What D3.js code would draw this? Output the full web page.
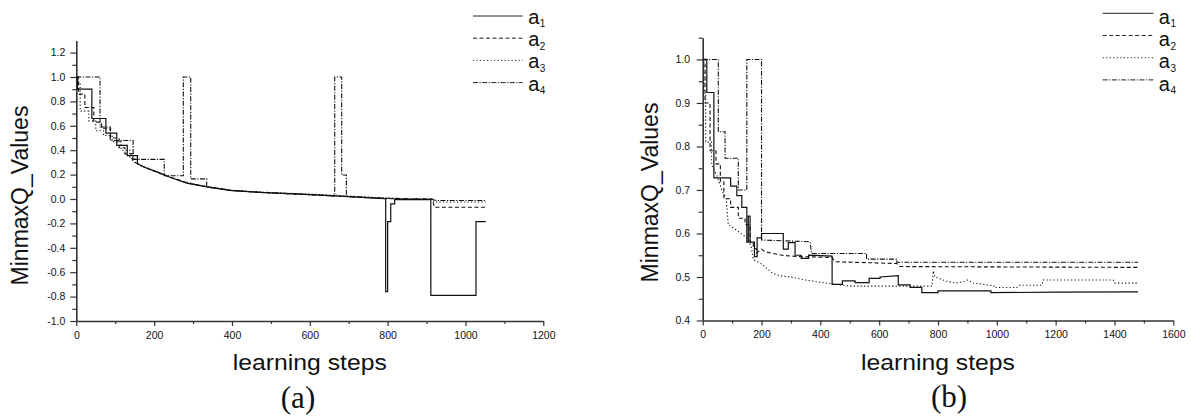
<!DOCTYPE html>
<html><head><meta charset="utf-8">
<script src="https://cdn.jsdelivr.net/npm/d3@7"></script>
<style>body{margin:0;background:#fff}svg{display:block}</style>
</head><body><svg id="c" width="1191" height="416"></svg>
<script>
// ---------- data ----------
const seriesNames = ["a1","a2","a3","a4"];
const leftXTicks = [0,200,400,600,800,1000,1200];
const leftXMinor = [100,300,500,700,900,1100];
const leftYTicks = [-1.0,-0.8,-0.6,-0.4,-0.2,0.0,0.2,0.4,0.6,0.8,1.0,1.2];
const leftYMinor = [-0.9,-0.7,-0.5,-0.3,-0.1,0.1,0.3,0.5,0.7,0.9,1.1];
const rightXTicks = [0,200,400,600,800,1000,1200,1400,1600];
const rightXMinor = [100,300,500,700,900,1100,1300,1500];
const rightYTicks = [0.4,0.5,0.6,0.7,0.8,0.9,1.0];
const rightYMinor = [0.45,0.55,0.65,0.75,0.85,0.95,1.05];

const leftA1 = [[0,1.0],[3,1.0],[3,0.9],[40,0.9],[40,0.66],[76,0.66],[76,0.54],[104,0.54],[104,0.44],[131,0.44],[131,0.355],[157,0.355],[157,0.29],[175,0.26],[206,0.224],[241,0.178],[284,0.13],[335,0.10],[395,0.07],[470,0.055],[575,0.04],[700,0.02],[780,0.005],[795,0.003],[795,-0.76],[800,-0.76],[800,-0.186],[808,-0.186],[808,-0.04],[818,-0.04],[818,-0.005],[911,-0.005],[911,-0.79],[1027,-0.79],[1027,-0.186],[1052,-0.186]];
const leftA2 = [[0,1.0],[6,1.0],[6,0.86],[22,0.86],[22,0.75],[45,0.75],[45,0.63],[65,0.63],[65,0.58],[88,0.58],[88,0.5],[110,0.5],[110,0.42],[125,0.42],[125,0.37],[145,0.37],[145,0.31],[165,0.275],[190,0.24],[215,0.21],[245,0.175],[290,0.128],[340,0.098],[400,0.07],[480,0.053],[580,0.038],[700,0.02],[790,0.004],[850,0.0],[915,0.0],[920,-0.068],[1052,-0.068]];
const leftA3 = [[0,1.0],[4,1.0],[4,0.95],[10,0.95],[10,0.72],[32,0.72],[32,0.64],[50,0.64],[50,0.56],[70,0.56],[70,0.52],[92,0.52],[92,0.47],[115,0.47],[115,0.4],[138,0.4],[138,0.33],[150,0.33],[150,0.3],[170,0.27],[200,0.232],[230,0.19],[270,0.145],[330,0.105],[400,0.072],[470,0.057],[560,0.045],[640,0.035],[700,0.025],[780,0.01],[820,0.005],[860,0.0],[915,0.0],[920,-0.025],[1052,-0.025]];
const leftA4 = [[0,1.0],[61,1.0],[61,0.59],[87,0.59],[87,0.48],[146,0.48],[146,0.325],[226,0.325],[226,0.19],[275,0.19],[275,1.0],[294,1.0],[294,0.165],[335,0.165],[335,0.10],[395,0.07],[470,0.055],[575,0.04],[664,0.025],[664,1.0],[682,1.0],[682,0.197],[694,0.197],[694,0.02],[780,0.008],[850,0.002],[911,0.0],[925,-0.012],[1052,-0.012]];

const rightA1 = [[0,1.0],[14,1.0],[14,0.924],[38,0.924],[38,0.728],[95,0.728],[95,0.709],[116,0.709],[116,0.687],[133,0.687],[133,0.66],[150,0.66],[150,0.58],[155,0.58],[155,0.64],[161,0.64],[161,0.58],[176,0.58],[176,0.547],[185,0.547],[185,0.59],[200,0.59],[200,0.6],[274,0.6],[274,0.564],[291,0.564],[291,0.579],[314,0.579],[314,0.55],[335,0.55],[335,0.543],[360,0.543],[360,0.55],[440,0.548],[440,0.483],[475,0.483],[475,0.491],[518,0.491],[518,0.487],[566,0.487],[566,0.497],[603,0.497],[603,0.5],[665,0.503],[665,0.482],[705,0.482],[705,0.476],[745,0.476],[745,0.464],[800,0.464],[800,0.468],[980,0.468],[980,0.464],[1200,0.465],[1480,0.466]];
const rightA2 = [[0,1.0],[8,1.0],[8,0.9],[25,0.9],[25,0.79],[45,0.79],[45,0.76],[60,0.76],[60,0.72],[72,0.72],[72,0.68],[95,0.68],[95,0.66],[121,0.66],[121,0.635],[144,0.635],[144,0.62],[161,0.62],[161,0.579],[172,0.579],[172,0.565],[183,0.565],[183,0.555],[200,0.564],[212,0.558],[270,0.55],[320,0.547],[440,0.545],[450,0.535],[660,0.531],[670,0.524],[1480,0.522]];
const rightA3 = [[0,1.0],[4,1.0],[4,0.92],[10,0.92],[10,0.81],[30,0.81],[30,0.76],[50,0.73],[65,0.70],[80,0.68],[87,0.62],[110,0.61],[150,0.59],[165,0.57],[172,0.54],[200,0.53],[235,0.51],[260,0.503],[300,0.5],[350,0.493],[430,0.485],[500,0.479],[780,0.479],[784,0.514],[790,0.50],[830,0.49],[860,0.486],[890,0.49],[900,0.493],[920,0.486],[990,0.48],[990,0.476],[1068,0.476],[1075,0.481],[1153,0.481],[1158,0.493],[1396,0.493],[1400,0.486],[1480,0.486]];
const rightA4 = [[0,1.0],[53,1.0],[53,0.834],[76,0.834],[76,0.773],[121,0.773],[121,0.70],[150,0.70],[150,1.0],[200,1.0],[200,0.585],[365,0.581],[370,0.554],[557,0.554],[557,0.541],[660,0.541],[660,0.534],[1480,0.534]];

// ---------- drawing ----------
const SANS = '"Liberation Sans",Arial,sans-serif';
const SERIF = '"Liberation Serif","Times New Roman",serif';
const svg = d3.select("#c").style("font-family", SANS);
const dashes = ["none","4,2.5","1.2,2.3","5,1.5,1.2,1.5"];

function panel(o){
  const x = d3.scaleLinear().domain(o.xd).range(o.xr);
  const y = d3.scaleLinear().domain(o.yd).range(o.yr);
  const g = svg.append("g");
  // minor ticks
  g.append("g").attr("transform",`translate(0,${o.yr[0]})`)
    .call(d3.axisBottom(x).tickValues(o.xMinor).tickSize(3).tickFormat("").tickSizeOuter(0))
    .call(s=>s.select(".domain").remove());
  g.append("g").attr("transform",`translate(${o.xr[0]},0)`)
    .call(d3.axisLeft(y).tickValues(o.yMinor).tickSize(4).tickFormat("").tickSizeOuter(0))
    .call(s=>s.select(".domain").remove());
  g.append("g").attr("transform",`translate(0,${o.yr[0]})`)
    .call(d3.axisBottom(x).tickValues(o.xTicks).tickSize(5).tickPadding(5.5).tickSizeOuter(0).tickFormat(d=>String(d)));
  g.append("g").attr("transform",`translate(${o.xr[0]},0)`)
    .call(d3.axisLeft(y).tickValues(o.yTicks).tickSize(6).tickPadding(o.yPad).tickSizeOuter(0).tickFormat(d=>d.toFixed(1)));
  g.selectAll(".tick line").attr("stroke","#333").attr("stroke-width",1.2);
  g.selectAll(".domain").attr("stroke","#333").attr("stroke-width",1.6);
  g.selectAll(".tick text").attr("fill","#111").style("font-size","10.5px").style("font-family",SANS);
  const line = d3.line().x(d=>x(d[0])).y(d=>y(d[1]));
  o.series.forEach((s,i)=>{
    g.append("path").attr("d",line(s)).attr("fill","none").attr("stroke","#111")
      .attr("stroke-width",i===0?1.2:1.1).attr("stroke-dasharray",dashes[i]);
  });
  // legend
  seriesNames.forEach((n,i)=>{
    const base = o.legBase + 22.2*i;
    g.append("line").attr("x1",o.legX[0]).attr("x2",o.legX[1])
      .attr("y1",base-o.legOff).attr("y2",base-o.legOff)
      .attr("stroke","#222").attr("stroke-width",1).attr("stroke-dasharray",dashes[i]);
    const t = g.append("text").attr("x",o.legX[1]+5.5).attr("y",base).style("font-size","20px").attr("fill","#111");
    t.append("tspan").text("a");
    t.append("tspan").style("font-size","10px").attr("dy",3.3).attr("dx",0.5).text(n.slice(1));
  });
  // axis titles
  g.append("text").attr("transform",`translate(${o.yTitle[0]},${o.yTitle[1]}) rotate(-90)`)
    .attr("text-anchor","middle").style("font-size","23px").attr("fill","#111").text("MinmaxQ_Values");
  g.append("text").attr("x",(o.xr[0]+o.xr[1])/2).attr("y",370).attr("text-anchor","middle")
    .style("font-size","22px").attr("fill","#111").attr("textLength",154).attr("lengthAdjust","spacingAndGlyphs").text("learning steps");
  g.append("text").attr("x",o.cap[0]).attr("y",o.cap[1]).attr("text-anchor","middle")
    .style("font-size","31px").attr("fill","#111").style("font-family",SERIF).text(o.capText);
}

panel({xd:[0,1200], xr:[76.3,543.3], yd:[-1.0,1.3], yr:[321,40.4],
  xTicks:leftXTicks, xMinor:leftXMinor, yTicks:leftYTicks, yMinor:leftYMinor, yPad:5,
  series:[leftA1,leftA2,leftA3,leftA4], legX:[473,522.7], legBase:24, legOff:8,
  yTitle:[28.3,195.5], cap:[298,408], capText:"(a)"});
panel({xd:[0,1600], xr:[702.7,1173.3], yd:[0.4,1.05], yr:[320.5,37.7],
  xTicks:rightXTicks, xMinor:rightXMinor, yTicks:rightYTicks, yMinor:rightYMinor, yPad:6.5,
  series:[rightA1,rightA2,rightA3,rightA4], legX:[1102.7,1153.3], legBase:24, legOff:10.7,
  yTitle:[658.3,192.5], cap:[949,407], capText:"(b)"});
</script></body></html>
